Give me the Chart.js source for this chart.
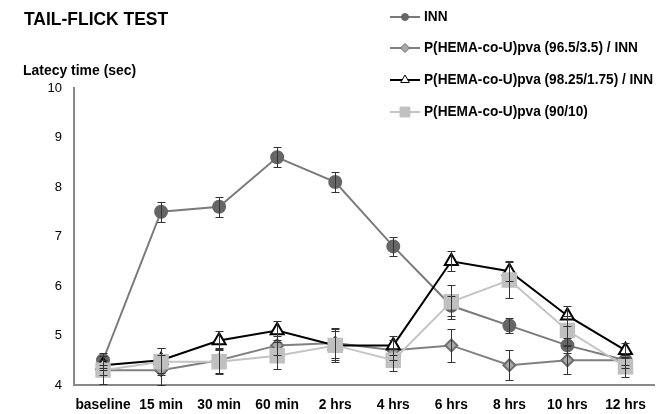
<!DOCTYPE html>
<html>
<head>
<meta charset="utf-8">
<script src="https://cdn.jsdelivr.net/npm/chart.js@4/dist/chart.umd.min.js"></script>
<style>
  html, body { margin: 0; padding: 0; background: #fff; overflow: hidden; }
  #wrap { width: 657px; height: 414px; overflow: hidden; }
</style>
</head>
<body>
<div id="wrap"><canvas id="tailFlick" width="666" height="414"></canvas></div>
<script>
// Tail-flick latency, mean values and error (+/-) per time point
const timePoints = ['baseline', '15 min', '30 min', '60 min', '2 hrs', '4 hrs', '6 hrs', '8 hrs', '10 hrs', '12 hrs'];

const innValues = [4.5, 7.5, 7.6, 8.6, 8.1, 6.8, 5.6, 5.2, 4.8, 4.5];
const innErrors = [0.15, 0.2, 0.2, 0.2, 0.2, 0.19, 0.2, 0.15, 0.15, 0.1];

const hema965Values = [4.3, 4.3, 4.5, 4.8, 4.85, 4.7, 4.8, 4.4, 4.5, 4.5];
const hema965Errors = [0.28, 0.3, 0.25, 0.2, 0.3, 0.2, 0.33, 0.3, 0.28, 0.15];

const hema9825Values = [4.4, 4.5, 4.9, 5.1, 4.8, 4.8, 6.5, 6.3, 5.4, 4.7];
const hema9825Errors = [0.1, 0.25, 0.2, 0.2, 0.3, 0.2, 0.2, 0.2, 0.2, 0.15];

const hema9010Values = [4.3, 4.47, 4.47, 4.59, 4.8, 4.5, 5.68, 6.12, 5.1, 4.37];
const hema9010Errors = [0.1, 0.27, 0.25, 0.27, 0.33, 0.22, 0.35, 0.37, 0.3, 0.2];

const yTicks = [4, 5, 6, 7, 8, 9, 10];

const seriesLabels = [
    'INN',
    'P(HEMA-co-U)pva (96.5/3.5) / INN',
    'P(HEMA-co-U)pva (98.25/1.75) / INN',
    'P(HEMA-co-U)pva (90/10)'
];

const plainFont = '"Liberation Sans", Arial, sans-serif';

// bold text squeezed a little to look like Arial Narrow
function narrowText(ctx, text, x, y, size, squeeze, align) {
    ctx.save();
    ctx.font = 'bold ' + size + 'px ' + plainFont;
    ctx.textBaseline = 'middle';
    let w = ctx.measureText(text).width * squeeze;
    let left = align === 'center' ? x - w / 2 : x;
    ctx.translate(left, y);
    ctx.scale(squeeze, 1);
    ctx.textAlign = 'left';
    ctx.fillText(text, 0, 0);
    ctx.restore();
}

// Error bars drawn with the chart's own scales
const errorBarPlugin = {
    id: 'errorBars',
    afterDatasetsDraw(chart) {
        const ctx = chart.ctx;
        const yScale = chart.scales.y;
        ctx.save();
        ctx.strokeStyle = '#333';
        ctx.lineWidth = 1;
        chart.data.datasets.forEach((ds, i) => {
            const meta = chart.getDatasetMeta(i);
            meta.data.forEach((pt, j) => {
                const err = ds.errors[j];
                const v = ds.data[j];
                const yTop = Math.round(yScale.getPixelForValue(v + err)) + 0.5;
                const yBot = Math.round(yScale.getPixelForValue(v - err)) + 0.5;
                const x = Math.round(pt.x) + 0.5;
                ctx.beginPath();
                ctx.moveTo(x, yTop); ctx.lineTo(x, yBot);
                ctx.moveTo(x - 4, yTop); ctx.lineTo(x + 4, yTop);
                ctx.moveTo(x - 4, yBot); ctx.lineTo(x + 4, yBot);
                ctx.stroke();
            });
        });
        ctx.restore();
    }
};

// Titles, x labels and the legend in the top right
const headerPlugin = {
    id: 'header',
    afterDraw(chart) {
        const ctx = chart.ctx;
        ctx.save();
        ctx.fillStyle = '#000';
        narrowText(ctx, 'TAIL-FLICK TEST', 24, 20, 18, 0.97, 'left');
        narrowText(ctx, 'Latecy time (sec)', 23, 71, 15, 0.93, 'left');

        const xScale = chart.scales.x;
        timePoints.forEach((lbl, i) => {
            narrowText(ctx, lbl, xScale.getPixelForValue(i), 405, 15, 0.92, 'center');
        });

        const rowY = [17, 48, 80, 112];
        chart.data.datasets.forEach((ds, i) => {
            const y = rowY[i];
            ctx.strokeStyle = ds.borderColor;
            ctx.lineWidth = ds.borderWidth;
            ctx.beginPath();
            ctx.moveTo(390, y); ctx.lineTo(420, y);
            ctx.stroke();
            ctx.fillStyle = ds.pointBackgroundColor;
            ctx.strokeStyle = ds.pointBorderColor;
            ctx.lineWidth = 1;
            Chart.helpers.drawPoint(ctx, {
                pointStyle: ds.pointStyle,
                rotation: 0,
                radius: ds.legendRadius,
                borderWidth: 1
            }, 405, y);
            ctx.fillStyle = '#000';
            narrowText(ctx, ds.label, 424, y, 15, 0.91, 'left');
        });
        ctx.restore();
    }
};

new Chart(document.getElementById('tailFlick').getContext('2d'), {
    type: 'line',
    data: {
        labels: timePoints,
        datasets: [{
            label: seriesLabels[0],
            data: innValues,
            errors: innErrors,
            order: 4,
            borderColor: '#7a7a7a',
            borderWidth: 2,
            pointStyle: 'circle',
            pointRadius: 6,
            legendRadius: 3.5,
            pointBackgroundColor: '#666',
            pointBorderColor: '#666'
        }, {
            label: seriesLabels[1],
            data: hema965Values,
            errors: hema965Errors,
            order: 3,
            borderColor: '#808080',
            borderWidth: 2,
            pointStyle: 'rectRot',
            pointRadius: 6,
            legendRadius: 4.5,
            pointBackgroundColor: '#a8a8a8',
            pointBorderColor: '#6e6e6e'
        }, {
            label: seriesLabels[2],
            data: hema9825Values,
            errors: hema9825Errors,
            order: 2,
            borderColor: '#000',
            borderWidth: 2,
            pointStyle: 'triangle',
            pointRadius: 7.5,
            legendRadius: 5,
            pointBackgroundColor: '#fff',
            pointBorderColor: '#000'
        }, {
            label: seriesLabels[3],
            data: hema9010Values,
            errors: hema9010Errors,
            order: 1,
            borderColor: '#c4c4c4',
            borderWidth: 2,
            pointStyle: 'rect',
            pointRadius: 9.5,
            legendRadius: 7,
            pointBackgroundColor: '#c0c0c0',
            pointBorderColor: '#c0c0c0'
        }]
    },
    options: {
        responsive: false,
        animation: false,
        layout: { padding: { top: 88, right: 0, bottom: 0, left: 0 } },
        plugins: {
            legend: { display: false },
            title: { display: false },
            tooltip: { enabled: false }
        },
        scales: {
            x: {
                offset: true,
                grid: { display: false, drawTicks: false },
                border: { color: '#888', width: 2 },
                ticks: { display: false },
                afterFit(scale) { scale.height = 29; }
            },
            y: {
                min: yTicks[0],
                max: yTicks[yTicks.length - 1],
                afterBuildTicks(scale) { scale.ticks = yTicks.map(v => ({ value: v })); },
                grid: { display: false, drawTicks: false },
                border: { color: '#888', width: 2 },
                ticks: {
                    color: '#000',
                    padding: 12,
                    font: { family: plainFont, size: 13 }
                },
                afterFit(scale) { scale.width = 74; }
            }
        }
    },
    plugins: [errorBarPlugin, headerPlugin]
});
</script>
</body>
</html>
